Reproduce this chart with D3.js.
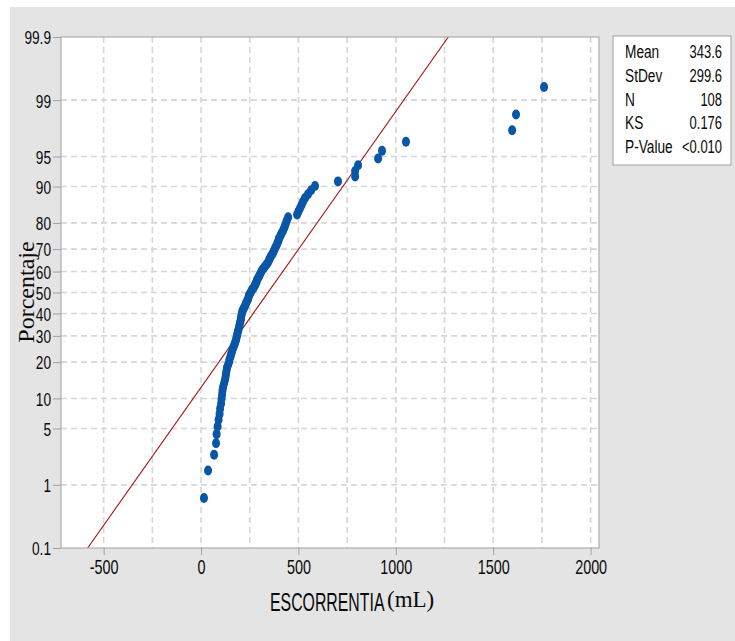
<!DOCTYPE html>
<html>
<head>
<meta charset="utf-8">
<script src="https://cdn.jsdelivr.net/npm/d3@7"></script>
<style>
  body { margin: 0; background: #ffffff; }
  text { font-family: "Liberation Sans", Arial, "DejaVu Sans", sans-serif; fill: #0a0a0a; }
  .serif { font-family: "Liberation Serif", "Times New Roman", "DejaVu Serif", serif; }
</style>
</head>
<body>
<div id="chart"></div>
<script>
// Chart set up
var svgWidth = 735;
var svgHeight = 641;

var margin = { top: 37, bottom: 93, right: 136, left: 61 };
var width = svgWidth - margin.left - margin.right;
var height = svgHeight - margin.top - margin.bottom;

// Data: ESCORRENTIA (mL), sorted, N = 108
var escorrentia = [
  15, 36, 67, 77, 80, 85, 90, 95, 98, 103,
  105, 108, 110, 113, 118, 123, 126, 128, 131, 133,
  139, 144, 146, 151, 154, 159, 162, 167, 172, 175,
  180, 182, 185, 187, 190, 193, 195, 198, 200, 203,
  205, 206, 208, 210, 213, 218, 223, 228, 231, 236,
  241, 244, 246, 252, 257, 262, 270, 275, 280, 285,
  287, 293, 298, 303, 308, 313, 321, 329, 337, 344,
  349, 354, 359, 367, 372, 377, 382, 388, 393, 398,
  400, 408, 413, 421, 426, 431, 436, 441, 447, 493,
  500, 508, 516, 524, 534, 549, 565, 585, 703, 791,
  791, 806, 909, 929, 1052, 1597, 1617, 1761
];

var xTicks = [-500, 0, 500, 1000, 1500, 2000];
var xGrid = [-500, -250, 0, 250, 500, 750, 1000, 1250, 1500, 1750, 2000];
var yTicks = [0.1, 1, 5, 10, 20, 30, 40, 50, 60, 70, 80, 90, 95, 99, 99.9];

var statLabels = ["Mean", "StDev", "N", "KS", "P-Value"];
var statValues = ["343.6", "299.6", "108", "0.176", "<0.010"];
var fitMean = 343.6;
var fitSd = 299.6;

// inverse normal CDF (Acklam)
function probit(p) {
  var a = [-39.69683028665376, 220.9460984245205, -275.9285104469687, 138.3577518672690, -30.66479806614716, 2.506628277459239];
  var b = [-54.47609879822406, 161.5858368580409, -155.6989798598866, 66.80131188771972, -13.28068155288572];
  var c = [-0.007784894002430293, -0.3223964580411365, -2.400758277161838, -2.549732539343734, 4.374664141464968, 2.938163982698783];
  var d = [0.007784695709041462, 0.3224671290700398, 2.445134137142996, 3.754408661907416];
  var q, r;
  if (p < 0.02425) {
    q = Math.sqrt(-2 * Math.log(p));
    return (((((c[0]*q+c[1])*q+c[2])*q+c[3])*q+c[4])*q+c[5]) / ((((d[0]*q+d[1])*q+d[2])*q+d[3])*q+1);
  } else if (p > 1 - 0.02425) {
    q = Math.sqrt(-2 * Math.log(1 - p));
    return -(((((c[0]*q+c[1])*q+c[2])*q+c[3])*q+c[4])*q+c[5]) / ((((d[0]*q+d[1])*q+d[2])*q+d[3])*q+1);
  }
  q = p - 0.5;
  r = q * q;
  return (((((a[0]*r+a[1])*r+a[2])*r+a[3])*r+a[4])*r+a[5])*q / (((((b[0]*r+b[1])*r+b[2])*r+b[3])*r+b[4])*r+1);
}

// squeeze text horizontally (narrow face look) with a scale transform
function narrow(sel, f) {
  sel.each(function() {
    var t = d3.select(this);
    var x = +t.attr("x") || 0;
    var y = +t.attr("y") || 0;
    t.attr("x", 0).attr("y", 0)
      .attr("transform", `translate(${x}, ${y}) scale(${f}, 1)`);
  });
}

var n = escorrentia.length;
var points = escorrentia.map(function(v, i) {
  return { x: v, z: probit((i + 1 - 0.3) / (n + 0.4)) };
});

// SVG
var svg = d3.select("#chart")
  .append("svg")
  .attr("width", svgWidth)
  .attr("height", svgHeight)
  .style("display", "block");

// gray page background with thin white strip top/left
svg.append("rect")
  .attr("x", 10).attr("y", 7)
  .attr("width", svgWidth - 10).attr("height", svgHeight - 7)
  .attr("fill", "#e4e4e4");

var chartGroup = svg.append("g")
  .attr("transform", `translate(${margin.left}, ${margin.top})`);

var xScale = d3.scaleLinear()
  .domain([-719, 2043])
  .range([0, width]);

var yScale = d3.scaleLinear()
  .domain([probit(0.001), probit(0.999)])
  .range([height, 0]);

chartGroup.append("rect")
  .attr("width", width)
  .attr("height", height)
  .attr("fill", "#ffffff");

// grid lines
chartGroup.selectAll(".vgrid")
  .data(xGrid)
  .enter()
  .append("line")
  .attr("x1", d => xScale(d)).attr("x2", d => xScale(d))
  .attr("y1", 0).attr("y2", height)
  .attr("stroke", "#d6d6d6")
  .attr("stroke-width", 1.6)
  .attr("stroke-dasharray", "6,4");

chartGroup.selectAll(".hgrid")
  .data(yTicks.slice(1, -1))
  .enter()
  .append("line")
  .attr("x1", 0).attr("x2", width)
  .attr("y1", d => yScale(probit(d / 100))).attr("y2", d => yScale(probit(d / 100)))
  .attr("stroke", "#d6d6d6")
  .attr("stroke-width", 1.6)
  .attr("stroke-dasharray", "6,4");

// axes
var bottomAxis = d3.axisBottom(xScale)
  .tickValues(xTicks)
  .tickFormat(d => String(d))
  .tickSize(7).tickPadding(5);
var leftAxis = d3.axisLeft(yScale)
  .tickValues(yTicks.map(p => probit(p / 100)))
  .tickFormat((d, i) => String(yTicks[i]))
  .tickSize(8).tickPadding(2);

var xAxisG = chartGroup.append("g")
  .attr("transform", `translate(0, ${height})`)
  .call(bottomAxis);
xAxisG.selectAll("text")
  .attr("font-family", null)
  .style("font-size", "20px")
  .attr("fill", "#0a0a0a")
  .call(narrow, 0.72);

var yAxisG = chartGroup.append("g")
  .call(leftAxis);
yAxisG.selectAll("text")
  .attr("font-family", null)
  .style("font-size", "19px")
  .attr("fill", "#0a0a0a")
  .attr("dy", "0.36em")
  .call(narrow, 0.72);

chartGroup.selectAll(".domain").remove();
chartGroup.selectAll(".tick line").attr("stroke", "#a0a0a0");

// clip
chartGroup.append("clipPath").attr("id", "clip")
  .append("rect").attr("width", width).attr("height", height);

// fitted normal line
var zEnds = [probit(0.001), probit(0.999)];
chartGroup.append("path")
  .datum(zEnds)
  .attr("clip-path", "url(#clip)")
  .attr("fill", "none")
  .attr("stroke", "#a31515")
  .attr("stroke-width", 1.1)
  .attr("d", d3.line()
    .x(z => xScale(fitMean + z * fitSd))
    .y(z => yScale(z)));

// points
chartGroup.selectAll(".pt")
  .data(points)
  .enter()
  .append("ellipse")
  .attr("cx", d => xScale(d.x))
  .attr("cy", d => yScale(d.z))
  .attr("rx", 4)
  .attr("ry", 5)
  .attr("fill", "#0a56a6");

// frame
chartGroup.append("rect")
  .attr("width", width)
  .attr("height", height)
  .attr("fill", "none")
  .attr("stroke", "#a0a0a0");

// axis labels
svg.append("text")
  .attr("class", "serif")
  .attr("transform", "translate(34, 292) rotate(-90)")
  .attr("text-anchor", "middle")
  .style("font-size", "24px")
  .text("Porcentaje");

svg.append("text")
  .attr("x", 270)
  .attr("y", 611)
  .style("font-size", "26px")
  .text("ESCORRENTIA")
  .call(narrow, 0.61);

svg.append("text")
  .attr("class", "serif")
  .attr("x", 387)
  .attr("y", 607)
  .style("font-size", "23px")
  .text("(mL)");

// stats box
var legend = svg.append("g").attr("transform", "translate(613, 36)");
legend.append("rect")
  .attr("width", 118)
  .attr("height", 129)
  .attr("fill", "#ffffff")
  .attr("stroke", "#a0a0a0");

legend.selectAll(".lab")
  .data(statLabels)
  .enter()
  .append("text")
  .attr("x", 12)
  .attr("y", (d, i) => 22 + i * 23.8)
  .style("font-size", "18.5px")
  .text(d => d)
  .call(narrow, 0.74);

legend.selectAll(".val")
  .data(statValues)
  .enter()
  .append("text")
  .attr("x", 109)
  .attr("y", (d, i) => 22 + i * 23.8)
  .attr("text-anchor", "end")
  .style("font-size", "18.5px")
  .text(d => d)
  .call(narrow, 0.7);
</script>
</body>
</html>
